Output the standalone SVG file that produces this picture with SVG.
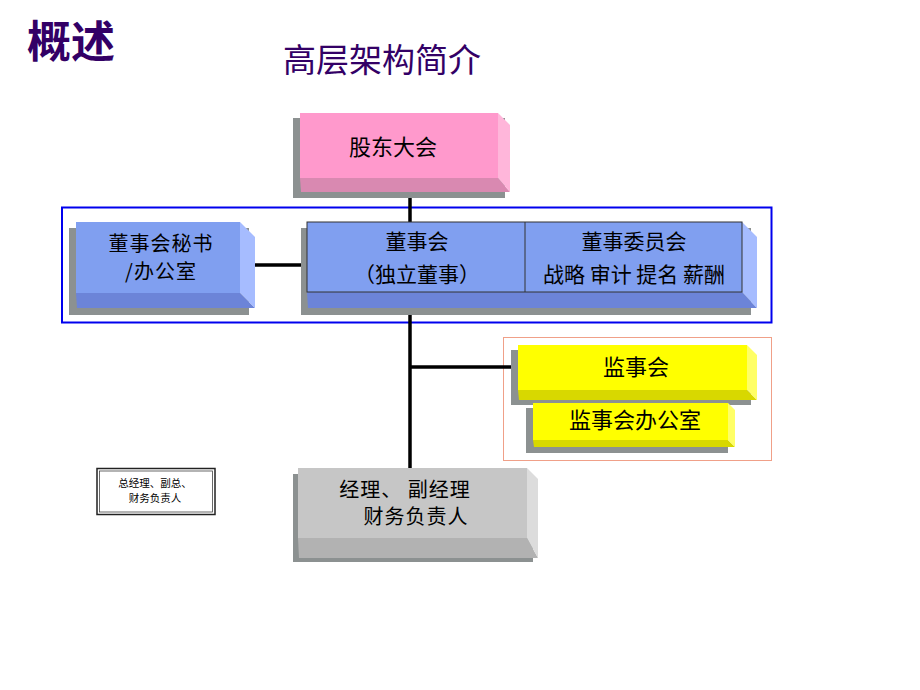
<svg xmlns="http://www.w3.org/2000/svg" width="920" height="690" viewBox="0 0 920 690">
<style>
.t{font-family:"Noto Sans CJK SC","Noto Sans",sans-serif;fill:#000;text-anchor:middle}
.b{font-size:22px}
.s{font-size:20px;letter-spacing:1px}
.sh{fill:#8c9191}
.ln{stroke:#000;stroke-width:3.5;fill:none}
</style>
<rect width="920" height="690" fill="#fff"/>
<g id="titles">
<text x="27" y="58" font-family="Noto Sans CJK SC,sans-serif" font-weight="bold" font-size="44" fill="#330066">概述</text>
<text x="283" y="72" font-family="Noto Sans CJK SC,sans-serif" font-size="33" fill="#330066">高层架构简介</text>
</g>
<rect id="board-frame" x="62" y="207.5" width="709.5" height="115" fill="none" stroke="#0000ee" stroke-width="2"/>
<rect id="supervisor-frame" x="503.5" y="337.5" width="268" height="123" fill="none" stroke="#f0a088" stroke-width="1"/>
<g id="connectors">
<line class="ln" x1="410" y1="185" x2="410" y2="222"/>
<line class="ln" x1="410" y1="292" x2="410" y2="468"/>
<line class="ln" x1="410" y1="367" x2="518" y2="367"/>
<line class="ln" x1="250" y1="265" x2="307" y2="265"/>
</g>
<g id="shareholders">
<rect class="sh" x="293" y="118" width="212" height="80"/>
<polygon points="300,178 498,178 510,192 301,192" fill="#d989b1"/>
<polygon points="498,113 510,125 510,192 498,178" fill="#ffb6da"/>
<rect x="300" y="113" width="198" height="65" fill="#ff99cc"/>
<text class="t b" x="393" y="155">股东大会</text>
</g>
<g id="secretary">
<rect class="sh" x="69" y="228" width="180" height="87"/>
<polygon points="76,293 240,293 255,308 77,308" fill="#6c84d8"/>
<polygon points="240,222 255,237 255,308 240,293" fill="#a6bcff"/>
<rect x="76" y="222" width="164" height="71" fill="#809ff0"/>
<text class="t s" x="161" y="251">董事会秘书</text>
<text class="t s" x="161" y="279">/办公室</text>
</g>
<g id="board">
<rect class="sh" x="301" y="228" width="450" height="87"/>
<polygon points="307,292 742,292 757,308 308,308" fill="#6c84d8"/>
<polygon points="742,222 757,237 757,308 742,292" fill="#a6bcff"/>
<rect x="307" y="222" width="435" height="70" fill="#809ff0" stroke="#333" stroke-width="1"/>
<line x1="525" y1="222" x2="525" y2="292" stroke="#333" stroke-width="1"/>
<text class="t" font-size="21" x="417" y="249">董事会</text>
<text class="t" font-size="21" x="417" y="282">（独立董事）</text>
<text class="t" font-size="21" x="634" y="249">董事委员会</text>
<text class="t" font-size="21" x="634" y="282">战略 审计 提名 薪酬</text>
</g>
<g id="supervisors">
<rect class="sh" x="511" y="350" width="240" height="55"/>
<polygon points="518,390 747,390 757,400 519,400" fill="#d8d800"/>
<polygon points="747,345 757,355 757,400 747,390" fill="#ffff66"/>
<rect x="518" y="345" width="229" height="45" fill="#ffff00"/>
<text class="t b" x="636" y="375">监事会</text>
</g>
<g id="supervisor-office">
<rect class="sh" x="526" y="408" width="202" height="45"/>
<polygon points="533,440 728,440 735,447 534,447" fill="#d8d800"/>
<polygon points="728,403 735,410 735,447 728,440" fill="#ffff66"/>
<rect x="533" y="403" width="195" height="37" fill="#ffff00"/>
<text class="t b" x="635" y="428">监事会办公室</text>
</g>
<g id="managers">
<rect class="sh" x="293" y="474" width="240" height="88"/>
<polygon points="298,538 527,538 538,558 299,558" fill="#b2b2b2"/>
<polygon points="527,468 538,479 538,558 527,538" fill="#dcdcdc"/>
<rect x="298" y="468" width="229" height="70" fill="#c6c6c6"/>
<text class="t s" x="405" y="497">经理、 副经理</text>
<text class="t s" x="416" y="524">财务负责人</text>
</g>
<g id="note">
<rect x="97" y="468.5" width="118" height="46" fill="#fff" stroke="#222" stroke-width="1.5"/>
<rect x="99.5" y="471" width="113" height="41" fill="none" stroke="#444" stroke-width="0.8"/>
<text class="t" font-size="10.5" fill="#333" x="155" y="487">总经理、副总、</text>
<text class="t" font-size="10.5" fill="#333" x="155" y="502">财务负责人</text>
</g>
</svg>
